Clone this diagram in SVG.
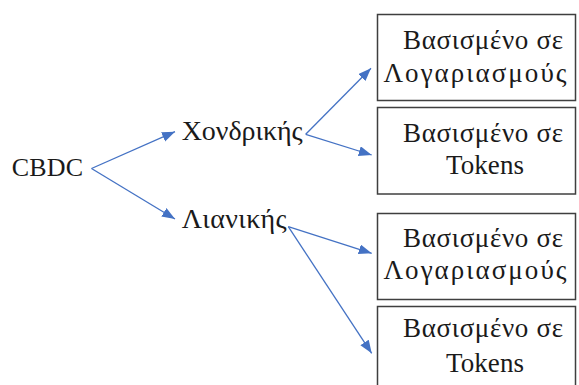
<svg xmlns="http://www.w3.org/2000/svg" width="579" height="385" viewBox="0 0 579 385">
<style>
.t{font-family:"Liberation Serif","Times New Roman",serif;fill:#1a1a1a}
.lbl{font-size:28px}
.bx{font-size:27px;text-anchor:middle}
.box{fill:#fff;stroke:#3f3f3f;stroke-width:1.5}
.c{stroke:#4472C4;stroke-width:1.3;fill:none}
</style>
<defs>
<marker id="ah" markerUnits="userSpaceOnUse" markerWidth="14" markerHeight="12" refX="13" refY="5" orient="auto">
<path d="M0,0 L13,5 L0,10 Z" fill="#4472C4"/>
</marker>
</defs>
<rect width="579" height="385" fill="#fff"/>
<g id="connectors">
<line class="c" x1="91.5" y1="168.5" x2="175" y2="131.7" marker-end="url(#ah)"/>
<line class="c" x1="91.5" y1="168.5" x2="175" y2="219" marker-end="url(#ah)"/>
<line class="c" x1="305.7" y1="134.3" x2="371" y2="68.3" marker-end="url(#ah)"/>
<line class="c" x1="305.7" y1="134.3" x2="371.7" y2="155" marker-end="url(#ah)"/>
<line class="c" x1="288.3" y1="226.7" x2="371.7" y2="253.3" marker-end="url(#ah)"/>
<line class="c" x1="288.3" y1="226.7" x2="371.7" y2="353.3" marker-end="url(#ah)"/>
</g>
<g id="cbdc"><text class="t" style="font-size:26px" x="11.7" y="176" textLength="71.5">CBDC</text></g>
<g id="xondrikis"><text class="t lbl" x="181.7" y="140" textLength="121">Χονδρικής</text></g>
<g id="lianikis"><text class="t lbl" x="181.7" y="228" textLength="105">Λιανικής</text></g>
<g id="box1">
<rect class="box" x="377.5" y="14.5" width="198" height="86"/>
<text class="t bx" x="483" y="49.3" textLength="160">Βασισμένο σε</text>
<text class="t bx" x="475" y="81.7" textLength="183">Λογαριασμούς</text>
</g>
<g id="box2">
<rect class="box" x="377.5" y="107.5" width="198" height="86.5"/>
<text class="t bx" x="483" y="141.7" textLength="160">Βασισμένο σε</text>
<text class="t bx" x="485" y="173.5" textLength="78">Tokens</text>
</g>
<g id="box3">
<rect class="box" x="377.5" y="213.5" width="198" height="86"/>
<text class="t bx" x="483" y="246.7" textLength="160">Βασισμένο σε</text>
<text class="t bx" x="475" y="278.5" textLength="183">Λογαριασμούς</text>
</g>
<g id="box4">
<rect class="box" x="377.5" y="306.5" width="198" height="86"/>
<text class="t bx" x="483" y="337" textLength="160">Βασισμένο σε</text>
<text class="t bx" x="485" y="371.7" textLength="78">Tokens</text>
</g>
</svg>
